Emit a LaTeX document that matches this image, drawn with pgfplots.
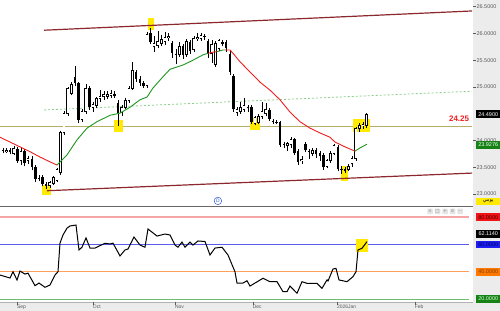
\documentclass[border=0pt]{standalone}
\usepackage{fontspec}
\setmainfont{Liberation Sans}
\newfontfamily\arabicfont[Script=Arabic]{DejaVu Sans}
\newfontfamily\symfont{DejaVu Sans}
\TeXXeTstate=1
\usepackage{pgfplots}
\usepackage{pgfplotstable}
\pgfplotsset{compat=1.18}

\definecolor{chan}{RGB}{140,40,45}
\definecolor{olivel}{RGB}{181,174,100}
\definecolor{hl}{RGB}{255,234,0}
\definecolor{maRed}{RGB}{240,30,30}
\definecolor{maGreen}{RGB}{30,150,30}
\definecolor{dashgreen}{RGB}{140,205,140}
\definecolor{strip}{RGB}{236,236,236}
\definecolor{lblgray}{RGB}{90,90,90}
\definecolor{rsiRed}{RGB}{245,165,165}
\definecolor{rsiBlue}{RGB}{90,90,240}
\definecolor{rsiOrange}{RGB}{255,160,90}
\definecolor{rsiGreen}{RGB}{110,190,110}
\definecolor{boxRed}{RGB}{240,20,20}
\definecolor{boxBlue}{RGB}{30,30,240}
\definecolor{boxOrange}{RGB}{255,120,0}
\definecolor{boxGreen}{RGB}{20,130,20}
\definecolor{dblue}{RGB}{50,90,210}

\pgfplotstableread{
i o h l c
0 23.82 23.86 23.76 23.80
1 23.80 23.85 23.76 23.82
2 23.82 23.86 23.74 23.78
3 23.76 23.90 23.72 23.85
4 23.84 23.88 23.58 23.62
5 23.62 23.86 23.55 23.80
6 23.80 23.84 23.52 23.58
7 23.62 23.70 23.56 23.66
8 23.66 23.70 23.44 23.50
9 23.50 23.54 23.22 23.28
10 23.30 23.36 23.24 23.28
11 23.32 23.36 23.14 23.18
12 23.18 23.22 23.10 23.15
13 23.15 23.24 23.12 23.21
14 23.20 23.34 23.16 23.30
15 23.26 23.48 23.22 23.45
16 23.40 24.18 23.36 24.14
17 24.14 24.55 24.10 24.51
18 24.51 25.00 24.46 24.97
19 24.88 25.10 24.84 25.05
20 25.19 25.40 25.02 25.07
21 25.07 25.10 24.33 24.38
22 24.40 24.58 24.34 24.55
23 24.55 25.05 24.50 24.98
24 24.98 25.02 24.56 24.62
25 24.62 24.72 24.54 24.68
26 24.65 24.82 24.60 24.78
27 24.78 24.95 24.72 24.82
28 24.82 24.93 24.76 24.85
29 24.83 24.92 24.78 24.86
30 24.84 24.95 24.80 24.87
31 24.87 24.92 24.80 24.83
32 24.70 24.75 24.27 24.52
33 24.52 24.66 24.46 24.62
34 24.62 24.80 24.58 24.75
35 24.75 25.02 24.70 24.98
36 24.98 25.47 24.94 25.30
37 25.28 25.32 25.10 25.15
38 25.15 25.20 25.02 25.08
39 25.08 25.12 24.98 25.02
40 25.02 26.02 24.98 25.98
41 26.00 26.10 25.80 25.84
42 25.75 25.95 25.66 25.82
43 25.78 26.05 25.72 25.84
44 25.82 25.98 25.76 25.88
45 25.85 26.02 25.78 25.92
46 25.92 26.00 25.86 25.94
47 25.82 25.85 25.55 25.64
48 25.62 25.70 25.42 25.60
49 25.60 25.84 25.56 25.76
50 25.76 25.80 25.52 25.60
51 25.60 25.90 25.56 25.84
52 25.84 25.88 25.62 25.68
53 25.70 25.95 25.66 25.90
54 25.90 26.00 25.86 25.93
55 25.90 26.00 25.86 25.96
56 25.95 25.99 25.88 25.93
57 25.85 25.90 25.55 25.62
58 25.62 25.88 25.45 25.80
59 25.42 25.86 25.38 25.82
60 25.72 25.90 25.68 25.86
61 25.84 25.88 25.76 25.80
62 25.84 25.88 25.66 25.72
63 25.62 25.68 25.22 25.28
64 25.20 25.24 24.54 24.58
65 24.52 24.62 24.45 24.58
66 24.55 24.72 24.50 24.62
67 24.58 24.80 24.54 24.65
68 24.62 24.66 24.54 24.60
69 24.62 24.66 24.30 24.34
70 24.32 24.46 24.28 24.42
71 24.34 24.50 24.30 24.45
72 24.44 24.72 24.40 24.55
73 24.50 24.70 24.46 24.58
74 24.56 24.60 24.36 24.40
75 24.36 24.40 24.30 24.34
76 24.34 24.38 24.30 24.33
77 24.34 24.36 23.88 23.92
78 23.93 23.98 23.86 23.92
79 23.90 23.98 23.80 23.95
80 23.92 24.06 23.86 24.02
81 24.02 24.05 23.72 23.76
82 23.80 23.84 23.55 23.60
83 23.62 23.70 23.56 23.64
84 23.94 23.98 23.78 23.82
85 23.80 23.84 23.66 23.78
86 23.76 23.86 23.70 23.82
87 23.82 23.86 23.68 23.74
88 23.76 23.80 23.62 23.70
89 23.72 23.76 23.45 23.50
90 23.52 23.66 23.48 23.62
91 23.62 23.80 23.58 23.76
92 23.76 23.93 23.72 23.90
93 23.88 23.92 23.42 23.46
94 23.46 23.52 23.38 23.44
95 23.44 23.50 23.40 23.45
96 23.46 23.56 23.42 23.52
97 23.56 23.70 23.50 23.66
98 23.66 24.26 23.62 24.23
99 24.22 24.32 24.16 24.28
100 24.28 24.34 24.22 24.30
101 24.28 24.52 24.24 24.49
}\ohlc

\pgfplotstableread{
i r
-0.83 37.6
1.94 35.4
2.78 40
3.89 34
4.72 40.5
6.11 38.3
6.94 39
8.89 29.8
10.00 31.7
11.67 28.6
13.06 30.3
14.44 37.6
15.28 40
15.83 61
16.67 67
17.78 72
18.61 73.6
20.28 74.3
21.11 56
21.94 58
23.06 64.8
24.17 57.4
25.56 57.4
28.33 60.9
29.72 60.4
30.56 61
32.50 51.6
33.89 56
34.72 56.7
36.39 65.5
38.06 59.6
39.44 58
40.28 71.4
42.78 66.2
45.00 67.7
46.39 67
47.78 59.6
48.61 58
49.72 61.8
50.56 58
51.94 61.8
52.78 59.6
54.17 62.6
56.11 62.2
57.50 52.3
58.89 57.4
60.83 58
62.50 52.3
64.44 40
65.00 31.7
66.67 31.7
67.78 33.4
68.61 29.5
72.22 35.2
74.17 32.7
76.11 32.7
77.78 25.4
78.89 25.4
79.72 29.5
81.67 24.2
83.06 32.7
84.44 31.5
87.22 31.5
88.61 27.8
90.00 34
90.28 33.2
91.67 42
92.50 42.5
93.33 34
95.56 32.7
97.22 36.4
98.06 40
98.61 56
99.72 57.2
101.11 62.1
}\rsi

\tikzset{vlab/.style={anchor=west, xshift=3bp, inner xsep=0.8bp, inner ysep=0.6bp,
  minimum width=24bp, minimum height=7.6bp, font=\fontsize{5.5}{6}\selectfont}}

\begin{document}
\begin{tikzpicture}[x=1bp,y=1bp]
\path[use as bounding box] (0bp,0bp) rectangle (500bp,311bp);
\fill[white] (0bp,0bp) rectangle (500bp,311bp);
\fill[strip] (473bp,0bp) rectangle (500bp,311bp);
\fill[strip] (0bp,0bp) rectangle (500bp,8.5bp);

% ---------------- price panel ----------------
\begin{axis}[name=price, at={(0bp,104bp)}, anchor=south west, scale only axis,
  width=473bp, height=207bp,
  xmin=-0.833, xmax=130.56, ymin=22.756, ymax=26.625,
  axis line style={draw=none}, xtick=\empty,
  ytick={23,23.5,24,25,25.5,26,26.5},
  yticklabels={23.0000,23.5000,24.0000,25.0000,25.5000,26.0000,26.5000},
  yticklabel pos=right, ytick pos=right, tick align=outside, major tick length=3bp,
  tick style={lblgray, line width=0.4bp},
  yticklabel style={font=\fontsize{5.5}{6}\selectfont, text=lblgray, inner sep=0.4bp},
  clip=false]

% horizontal level line
\addplot[olivel, line width=1.5bp, forget plot] coordinates {(-0.83,24.26) (130.3,24.26)};
% yellow highlight boxes
\addplot[fill=hl, draw=none, forget plot] coordinates {(40.3,26.06) (41.9,26.06) (41.9,26.29) (40.3,26.29)} -- cycle;
\addplot[fill=hl, draw=none, forget plot] coordinates {(30.8,24.16) (33.3,24.16) (33.3,24.38) (30.8,24.38)} -- cycle;
\addplot[fill=hl, draw=none, forget plot] coordinates {(10.8,22.98) (13.3,22.98) (13.3,23.17) (10.8,23.17)} -- cycle;
\addplot[fill=hl, draw=none, forget plot] coordinates {(68.6,24.20) (71.4,24.20) (71.4,24.42) (68.6,24.42)} -- cycle;
\addplot[fill=hl, draw=none, forget plot] coordinates {(93.9,23.24) (95.8,23.24) (95.8,23.52) (93.9,23.52)} -- cycle;
\addplot[fill=hl, draw=none, forget plot] coordinates {(97.2,24.16) (101.9,24.16) (101.9,24.40) (97.2,24.40)} -- cycle;
% channel
\addplot[chan, line width=1.2bp, forget plot] coordinates {(11.4,26.06) (130.3,26.42)};
\addplot[chan, line width=1.2bp, forget plot] coordinates {(12.2,23.06) (130.3,23.39)};
\addplot[dashgreen, line width=0.8bp, dash pattern=on 2bp off 2bp, forget plot] coordinates {(11.4,24.57) (130.3,24.92)};

% wicks
\addplot[draw=none, mark=none, forget plot,
  error bars/.cd, y dir=plus, y explicit, error mark=none,
  error bar style={draw=black, line width=0.5bp, solid}]
  table[x=i, y=l, y error expr=\thisrow{h}-\thisrow{l}] {\ohlc};
% black bodies
\addplot[draw=none, mark=none, forget plot,
  restrict expr to domain={\thisrow{o}-\thisrow{c}}{0.001:100},
  error bars/.cd, y dir=plus, y explicit, error mark=none,
  error bar style={draw=black, line width=2.4bp, solid}]
  table[x=i, y=c, y error expr=\thisrow{o}-\thisrow{c}] {\ohlc};
% white bodies: outline
\addplot[draw=none, mark=none, forget plot,
  restrict expr to domain={\thisrow{c}-\thisrow{o}}{-0.0001:100},
  error bars/.cd, y dir=plus, y explicit, error mark=none,
  error bar style={draw=black, line width=2.6bp, solid}]
  table[x=i, y expr=\thisrow{o}-0.0093, y error expr=\thisrow{c}-\thisrow{o}+0.0186] {\ohlc};
% white bodies: fill
\addplot[draw=none, mark=none, forget plot,
  restrict expr to domain={\thisrow{c}-\thisrow{o}}{0.019:100},
  error bars/.cd, y dir=plus, y explicit, error mark=none,
  error bar style={draw=white, line width=1.6bp, solid}]
  table[x=i, y expr=\thisrow{o}+0.0093, y error expr=\thisrow{c}-\thisrow{o}-0.0186] {\ohlc};

% moving average (coloured by trend)
\addplot[maRed, line width=0.9bp, forget plot] coordinates {(-0.83,24.06) (1.94,23.97) (4.72,23.88) (7.5,23.79) (10.28,23.69) (13.06,23.60) (15,23.54)};
\addplot[maGreen, line width=0.9bp, forget plot] coordinates {(15,23.54) (17.78,23.73) (20.56,24.01) (23.33,24.23) (26.11,24.35) (29.72,24.47) (32.5,24.51) (35.28,24.62) (38.06,24.76) (40,24.81) (41.67,24.98) (44.44,25.19) (46.39,25.33) (50,25.41) (52.78,25.50) (55.56,25.60) (57,25.63)};
\addplot[maRed, line width=0.9bp, forget plot] coordinates {(57,25.63) (58.33,25.65) (59.5,25.66)};
\addplot[maGreen, line width=0.9bp, forget plot] coordinates {(59.5,25.66) (61.11,25.69) (61.7,25.69)};
\addplot[maRed, line width=0.9bp, forget plot] coordinates {(61.7,25.69) (63.06,25.69) (63.89,25.63) (65.83,25.47) (68.61,25.28) (71.39,25.09) (74.17,24.94) (76.94,24.76) (79.72,24.53) (82.5,24.35) (85.28,24.23) (88.06,24.14) (90.83,24.06) (92.22,23.97) (95,23.88) (97.78,23.80)};
\addplot[maGreen, line width=0.9bp, forget plot] coordinates {(97.78,23.80) (99.17,23.86) (101.11,23.93)};

% annotations
\node[text=maRed, font=\fontsize{8}{9}\selectfont\bfseries] at (axis cs:126.7,24.40) {24.25};
\node[circle, draw=dblue, line width=0.5bp, inner sep=0pt, minimum size=7.5bp, text=dblue, font=\fontsize{5}{5}\selectfont] at (axis cs:59.7,22.87) {D};
\node[vlab, fill=black, text=white] at (axis cs:130.56,24.49) {24.4900};
\node[vlab, fill=boxGreen, text=white] at (axis cs:130.56,23.92) {23.9276};
\node[vlab, fill=hl, text=black, font=\fontsize{5}{6}\arabicfont] at (axis cs:130.56,22.86) {\beginR يومي\endR};
\end{axis}

% separators
\draw[gray!80!black, line width=1bp] (0bp,104.5bp) -- (473bp,104.5bp);
\draw[gray!60, line width=0.6bp] (0bp,8.7bp) -- (473bp,8.7bp);

% ---------------- RSI panel ----------------
\begin{axis}[name=rsi, at={(0bp,9bp)}, anchor=south west, scale only axis,
  width=473bp, height=94bp,
  xmin=-0.833, xmax=130.56, ymin=17.8, ymax=86.8,
  axis line style={draw=none}, ytick=\empty,
  xtick={3.89,25,47.8,69.4,92.8,114.4},
  xticklabels={Sep,Oct,Nov,Dec,2026Jan,Feb},
  xtick pos=bottom, tick align=outside, major tick length=2.5bp,
  tick style={lblgray, line width=0.4bp},
  xticklabel style={font=\fontsize{5}{6}\selectfont, text=lblgray, anchor=north west, inner sep=0.3bp, xshift=-0.5bp},
  clip=false]
\addplot[rsiRed, line width=1.6bp, forget plot] coordinates {(-0.83,80) (129.4,80)};
\addplot[rsiBlue, line width=0.7bp, forget plot] coordinates {(-0.83,60) (129.4,60)};
\addplot[rsiOrange, line width=1bp, forget plot] coordinates {(-0.83,40) (129.4,40)};
\addplot[rsiGreen, line width=1bp, forget plot] coordinates {(-0.83,20) (129.4,20)};
\addplot[fill=hl, draw=none, forget plot] coordinates {(98.1,54.5) (101.4,54.5) (101.4,64.0) (98.1,64.0)} -- cycle;
\addplot[black, line width=1bp, forget plot] table[x=i, y=r] {\rsi};

\node[vlab, fill=boxRed, text=black!70!red] at (axis cs:130.56,80) {80.0000};
\node[vlab, fill=black, text=white] at (axis cs:130.56,67.7) {62.1140};
\node[vlab, fill=boxBlue, text=black!60!blue] at (axis cs:130.56,60) {60.0000};
\node[vlab, fill=boxOrange, text=black!50!orange] at (axis cs:130.56,40) {40.0000};
\node[vlab, fill=boxGreen, text=white!85!green] at (axis cs:130.56,20) {20.0000};
\end{axis}

% panel toolbar
\foreach \xx/\g in {430/×,437.5/□,445/+,452.5/⊙,460/⋯}{
  \node[fill=gray!20, rounded corners=0.6bp, minimum size=5.5bp, inner sep=0pt,
        text=gray, font=\fontsize{4.5}{5}\symfont] at (\xx bp,99.5bp) {\g};
}
\end{tikzpicture}
\end{document}
